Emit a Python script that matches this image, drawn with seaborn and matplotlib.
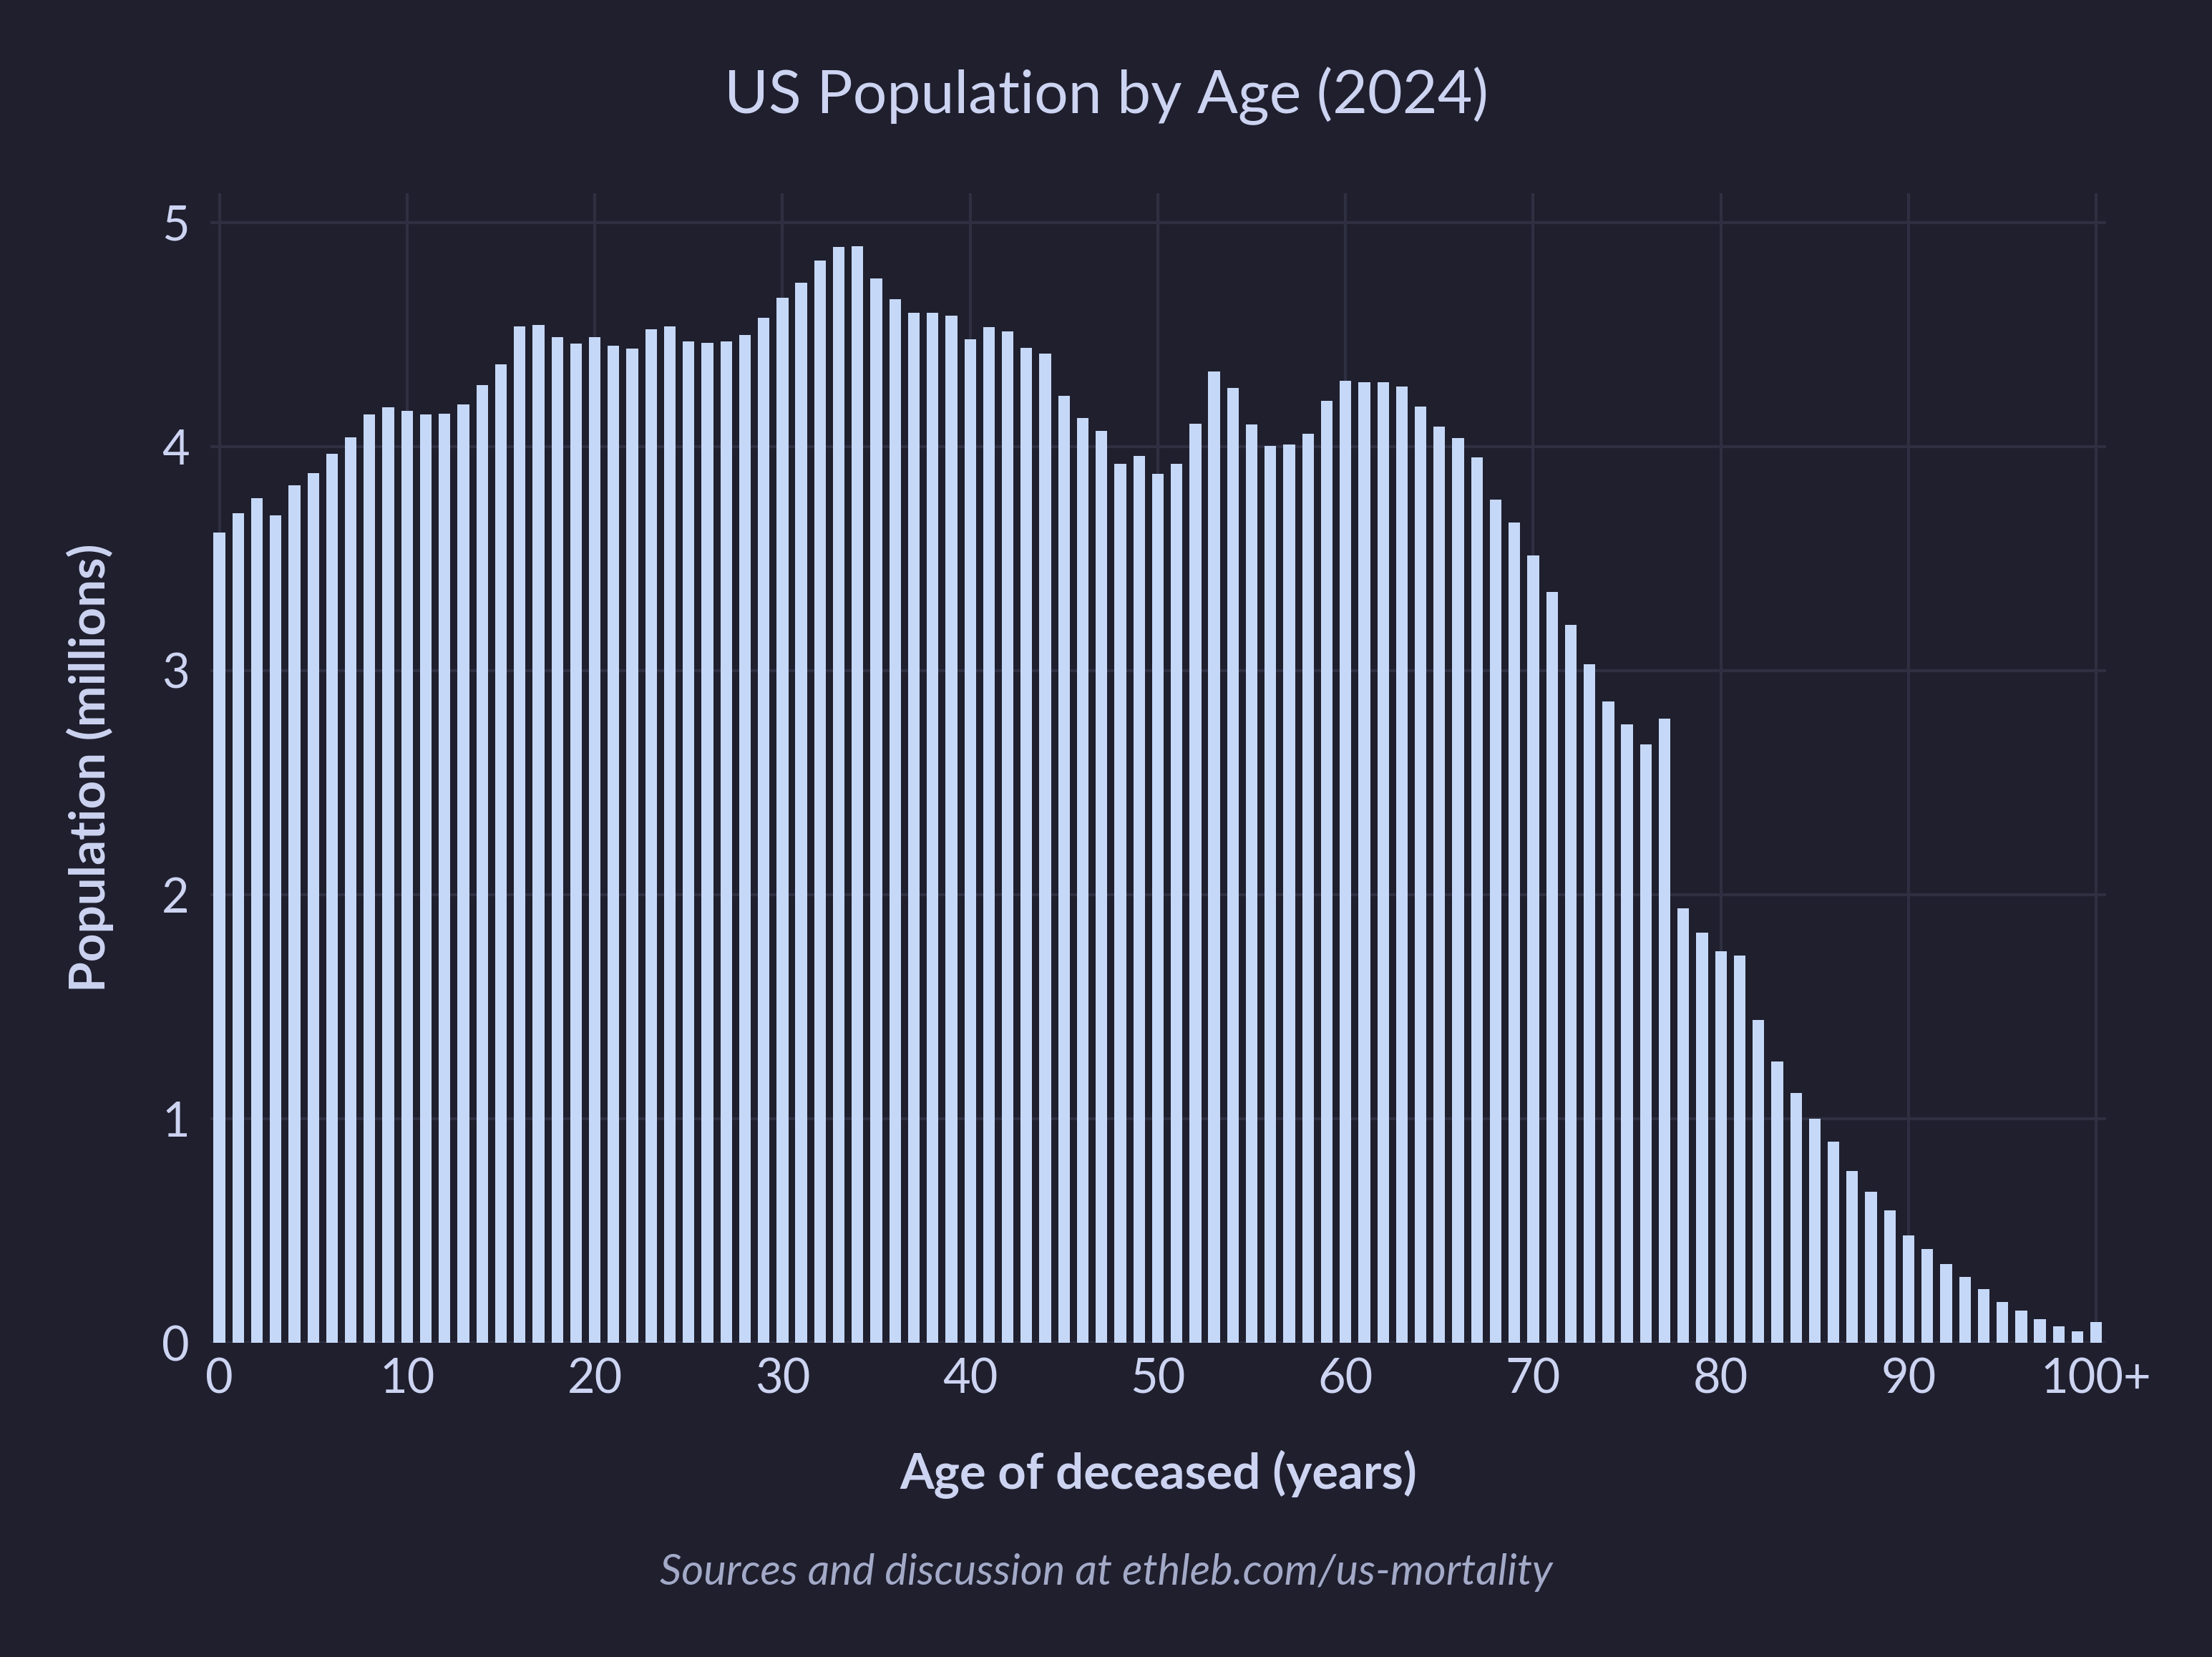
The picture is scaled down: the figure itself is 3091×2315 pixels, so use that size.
import matplotlib
matplotlib.use("Agg")
import matplotlib.pyplot as plt
import seaborn as sns
import pandas as pd

ages = list(range(101))
population_millions = [
    3.616, 3.702, 3.769, 3.693, 3.827, 3.881, 3.967, 4.041, 4.143, 4.175,
    4.159, 4.143, 4.146, 4.188, 4.274, 4.367, 4.536, 4.543, 4.488, 4.460,
    4.488, 4.450, 4.437, 4.524, 4.536, 4.469, 4.463, 4.469, 4.498, 4.575,
    4.664, 4.731, 4.830, 4.891, 4.894, 4.750, 4.658, 4.597, 4.597, 4.584,
    4.479, 4.533, 4.514, 4.440, 4.415, 4.226, 4.127, 4.069, 3.922, 3.958,
    3.878, 3.922, 4.101, 4.335, 4.261, 4.098, 4.002, 4.008, 4.056, 4.204,
    4.293, 4.287, 4.287, 4.268, 4.179, 4.087, 4.037, 3.951, 3.762, 3.660,
    3.513, 3.350, 3.203, 3.028, 2.863, 2.760, 2.672, 2.784, 1.940, 1.831,
    1.748, 1.729, 1.441, 1.256, 1.116, 1.000, 0.897, 0.766, 0.673, 0.590,
    0.479, 0.418, 0.351, 0.294, 0.240, 0.181, 0.144, 0.106, 0.073, 0.052,
    0.092,
]
x_ticks = [0, 10, 20, 30, 40, 50, 60, 70, 80, 90, 100]
x_tick_labels = ["0", "10", "20", "30", "40", "50", "60", "70", "80", "90", "100+"]
y_ticks = [0, 1, 2, 3, 4, 5]

title = "US Population by Age (2024)"
x_label = "Age of deceased (years)"
y_label = "Population (millions)"
source = "Sources and discussion at ethleb.com/us-mortality"

BG = "#1f1f2e"
BAR = "#c6d8f7"
GRID = "#2f2f42"
TEXT = "#cdd4f2"
SUB = "#a3aac8"

sns.set_theme(style="dark")
plt.rcParams["font.family"] = ["Lato", "DejaVu Sans"]

df = pd.DataFrame({"age": ages, "pop": population_millions})

fig = plt.figure(figsize=(3091 / 300, 2315 / 300), dpi=300, facecolor=BG)
ax = fig.add_axes([0.0951, 0.1896, 0.8570, 0.6938])
ax.set_facecolor(BG)

sns.barplot(data=df, x="age", y="pop", color=BAR, saturation=1, width=0.62,
            linewidth=0, ax=ax, order=ages)

ax.set_xlim(-0.48, 100.52)
ax.set_ylim(0, 5.13)
ax.set_xticks(x_ticks)
ax.set_xticklabels(x_tick_labels)
ax.set_yticks(y_ticks)
ax.grid(True, color=GRID, linewidth=1.0)
ax.set_axisbelow(True)
for s in ax.spines.values():
    s.set_visible(False)
ax.tick_params(axis="both", length=0, colors=TEXT, labelsize=16)
ax.tick_params(axis="x", pad=5)
ax.tick_params(axis="y", pad=7)

ax.set_xlabel(x_label, color=TEXT, fontsize=16.5, fontweight="bold", labelpad=16)
ax.set_ylabel(y_label, color=TEXT, fontsize=16.6, fontweight="bold", labelpad=16)

fig.text(0.5, 1 - 134 / 2315, title, ha="center", va="center", color=TEXT, fontsize=20.2)
fig.text(0.5, 1 - 2197 / 2315, source, ha="center", va="center", color=SUB,
         fontsize=14.3, style="italic")

fig.savefig("out.png", dpi=300, facecolor=BG)
